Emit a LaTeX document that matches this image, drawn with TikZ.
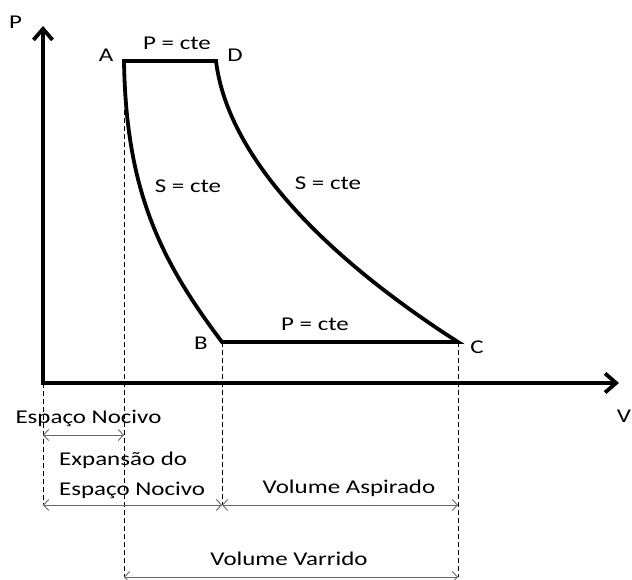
\documentclass[tikz,border=0pt]{standalone}
\usepackage{fontspec}
\setmainfont{Carlito}[FakeStretch=1.28]
\usetikzlibrary{arrows.meta}
\begin{document}
\begin{tikzpicture}[x=1pt,y=-1pt,
  lbl/.style={font=\fontsize{19.5}{30}\selectfont, inner sep=0pt, anchor=base},
  lblw/.style={lbl, anchor=base west},
  axis/.style={line width=3.8pt, line join=miter, {Straight Barb[length=11pt,width=19pt]}-{Straight Barb[length=11pt,width=19pt]}},
  curve/.style={line width=3.8pt, line join=miter},
  guide/.style={line width=0.8pt, dash pattern=on 5pt off 3pt},
  dim/.style={draw=black!60, line width=0.9pt, {Straight Barb[length=5pt,width=11pt]}-{Straight Barb[length=5pt,width=11pt]}}]
\useasboundingbox (0,0) rectangle (632,580);
% key points
\coordinate (O) at (43,383);
\coordinate (Ptip) at (43,26);
\coordinate (Vtip) at (619,383);
\coordinate (A) at (124,61);
\coordinate (D) at (216,61);
\coordinate (B) at (222,342);
\coordinate (C) at (458,342);
\coordinate (Adash) at (124,110);
\coordinate (g0) at (43,505);
\coordinate (gA) at (124,577);
\coordinate (gB) at (222,505);
\coordinate (gC) at (458,577);
\coordinate (n0) at (43,435);
\coordinate (n1) at (124,435);
\coordinate (e0) at (43,505);
\coordinate (e1) at (222,505);
\coordinate (a0) at (222,505);
\coordinate (a1) at (458,505);
\coordinate (v0) at (124,577);
\coordinate (v1) at (458,577);
% guide lines
\draw[guide] (O) -- (g0);
\draw[guide] (Adash) -- (gA);
\draw[guide] (B) -- (gB);
\draw[guide] (C) -- (gC);
% axes
\draw[axis] (Ptip) -- (O) -- (Vtip);
% cycle
\draw[curve] (C) -- (B)
  .. controls (160,260) and (126,190) .. (A)
  -- (D)
  .. controls (228,160) and (330,260) .. (C)
  -- cycle;
% dimension lines
\draw[dim] (n0) -- (n1);
\draw[dim] (e0) -- (e1);
\draw[dim] (a0) -- (a1);
\draw[dim] (v0) -- (v1);
% labels
\node[lbl] (lP) at (15.5,29) {P};
\node[lbl] (lV) at (624,422) {V};
\node[lbl] (lA) at (106,62) {A};
\node[lbl] (lD) at (235,62) {D};
\node[lbl] (lB) at (201,349) {B};
\node[lbl] (lC) at (477,353) {C};
\node[lbl] (pAD) at (177,50) {P = cte};
\node[lbl] (pBC) at (315,330) {P = cte};
\node[lbl] (sAB) at (188,193) {S = cte};
\node[lbl] (sDC) at (328,190) {S = cte};
\node[lbl] (tEN) at (88.5,423) {Espaço Nocivo};
\node[lblw] (tX1) at (59,465) {Expansão do};
\node[lblw] (tX2) at (59,495) {Espaço Nocivo};
\node[lbl] (tVA) at (349,493) {Volume Aspirado};
\node[lbl] (tVV) at (289,565) {Volume Varrido};
\end{tikzpicture}
\end{document}
